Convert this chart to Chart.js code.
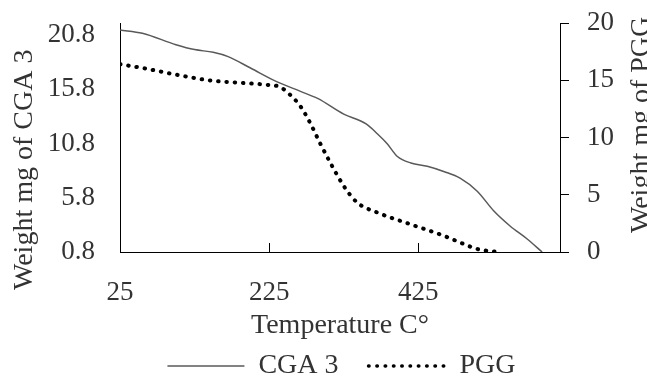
<!DOCTYPE html>
<html>
<head>
<meta charset="utf-8">
<script src="https://cdn.jsdelivr.net/npm/chart.js@4.4.0/dist/chart.umd.min.js"></script>
<style>
  html, body { margin: 0; padding: 0; background: #fff; }
</style>
</head>
<body>
<canvas id="tgaChart" width="647" height="376"></canvas>
<script>
"use strict";

// Values
var cgaTemps   = [25, 55, 100, 125, 150, 170, 200, 235, 267, 290, 325, 355, 370, 383, 397, 415, 437, 460, 481, 504, 526, 548, 571, 591];
var cgaWeights = [21.25, 20.95, 19.9, 19.45, 19.2, 18.8, 17.75, 16.5, 15.6, 14.95, 13.5, 12.6, 11.7, 10.8, 9.6, 9.0, 8.7, 8.2, 7.6, 6.4, 4.6, 3.2, 2.0, 0.8];
var pggTemps   = [25, 56, 101, 146, 190, 222, 240, 253, 267, 280, 293, 307, 325, 343, 370, 414, 459, 486, 504, 533];
var pggWeights = [16.4, 16.06, 15.48, 14.98, 14.76, 14.6, 14.4, 13.74, 12.72, 11.27, 9.54, 7.8, 5.77, 4.32, 3.45, 2.43, 1.42, 0.7, 0.26, 0];

var tempTicks = [25, 225, 425];
var cgaTicks = [0.8, 5.8, 10.8, 15.8, 20.8];
var pggTicks = [0, 5, 10, 15, 20];

var seriesNames = ["CGA 3", "PGG"];
var xTitle = "Temperature C\u00B0";
var leftTitle = "Weight mg of CGA 3";
var rightTitle = "Weight mg of PGG";

var textColor = "#333333";
var serif = '"Liberation Serif", "Times New Roman", serif';

function toPoints(xs, ys) {
    var pts = [];
    for (var i = 0; i < xs.length; i++) {
        pts.push({x: xs[i], y: ys[i]});
    }
    return pts;
}

function fixedTicks(values) {
    return function(scale) {
        scale.ticks = values.map(function(v) { return {value: v}; });
    };
}

// Pin the axis boxes so the plot area sits where the original one does
function fitAxis(size) {
    return function(scale) {
        if (scale.isHorizontal()) {
            scale.height = size;
        } else {
            scale.width = size;
        }
        scale.paddingTop = 0;
        scale.paddingBottom = 0;
        scale.paddingLeft = 0;
        scale.paddingRight = 0;
    };
}

// Inward tick marks on the x axis and the two rotated y titles
var extras = {
    id: "extras",
    afterDraw: function(chart) {
        var ctx = chart.ctx;
        var area = chart.chartArea;
        var xs = chart.scales.x;
        ctx.save();
        ctx.strokeStyle = "#000";
        ctx.lineWidth = 1;
        tempTicks.slice(1).forEach(function(v) {
            var px = Math.round(xs.getPixelForValue(v)) + 0.5;
            ctx.beginPath();
            ctx.moveTo(px, area.bottom);
            ctx.lineTo(px, area.bottom - 9);
            ctx.stroke();
        });

        ctx.fillStyle = textColor;
        ctx.font = "28px " + serif;
        ctx.textAlign = "left";
        ctx.textBaseline = "alphabetic";

        ctx.save();
        ctx.translate(32, 290);
        ctx.rotate(-Math.PI / 2);
        ctx.fillText(leftTitle, 0, 0);
        ctx.restore();

        ctx.save();
        ctx.translate(649, 233);
        ctx.rotate(-Math.PI / 2);
        ctx.fillText(rightTitle, 0, 0);
        ctx.restore();

        ctx.restore();
    }
};

function drawChart() {
    Chart.defaults.font.family = serif;
    Chart.defaults.color = textColor;

    var ctx = document.getElementById("tgaChart");
    new Chart(ctx, {
        type: "line",
        data: {
            datasets: [{
                label: seriesNames[0],
                data: toPoints(cgaTemps, cgaWeights),
                yAxisID: "yLeft",
                borderColor: "#595959",
                backgroundColor: "#595959",
                borderWidth: 1.5,
                pointRadius: 0,
                cubicInterpolationMode: "monotone",
                fill: false
            }, {
                label: seriesNames[1],
                data: toPoints(pggTemps, pggWeights),
                yAxisID: "yRight",
                borderColor: "#000000",
                backgroundColor: "#000000",
                borderWidth: 4,
                borderDash: [0.5, 7.8],
                borderCapStyle: "round",
                pointRadius: 0,
                cubicInterpolationMode: "monotone",
                fill: false
            }]
        },
        options: {
            responsive: false,
            animation: false,
            layout: {padding: {left: 36, top: 23, right: 0, bottom: -14}},
            plugins: {
                tooltip: {enabled: false},
                legend: {
                    position: "bottom",
                    labels: {
                        usePointStyle: true,
                        pointStyle: "line",
                        pointStyleWidth: 77,
                        padding: 30,
                        color: textColor,
                        font: {size: 28},
                        // legend samples take the dash of their line
                        generateLabels: function(chart) {
                            var items = Chart.defaults.plugins.legend.labels.generateLabels(chart);
                            items.forEach(function(item) {
                                var ds = chart.data.datasets[item.datasetIndex];
                                item.lineDash = ds.borderDash || [];
                                item.lineCap = ds.borderCapStyle || "butt";
                                item.strokeStyle = ds.borderColor;
                                item.lineWidth = ds.borderDash ? 3.5 : 1.5;
                            });
                            return items;
                        }
                    }
                }
            },
            scales: {
                x: {
                    type: "linear",
                    min: 25,
                    max: 615,
                    afterBuildTicks: fixedTicks(tempTicks),
                    afterFit: fitAxis(70),
                    grid: {display: false},
                    border: {display: true, color: "#000", width: 1},
                    ticks: {padding: 17, font: {size: 27}, color: textColor, maxRotation: 0},
                    title: {
                        display: true,
                        text: xTitle,
                        color: textColor,
                        font: {size: 28},
                        padding: {top: 0, bottom: -20}
                    }
                },
                yLeft: {
                    type: "linear",
                    position: "left",
                    min: 0.8,
                    max: 21.9,
                    afterBuildTicks: fixedTicks(cgaTicks),
                    afterFit: fitAxis(84),
                    grid: {display: false, drawTicks: false},
                    border: {display: true, color: "#000", width: 1},
                    ticks: {padding: 25, crossAlign: "near", font: {size: 27}, color: textColor,
                        callback: function(v) { return v.toFixed(1); }}
                },
                yRight: {
                    type: "linear",
                    position: "right",
                    min: 0,
                    max: 20,
                    afterBuildTicks: fixedTicks(pggTicks),
                    afterFit: fitAxis(87),
                    grid: {display: true, drawOnChartArea: false, drawTicks: true,
                        tickLength: 9, tickColor: "#000", tickWidth: 1},
                    border: {display: true, color: "#000", width: 1},
                    ticks: {padding: 18, font: {size: 27}, color: textColor}
                }
            }
        },
        plugins: [extras]
    });
}

window.onload = drawChart;
</script>
</body>
</html>
